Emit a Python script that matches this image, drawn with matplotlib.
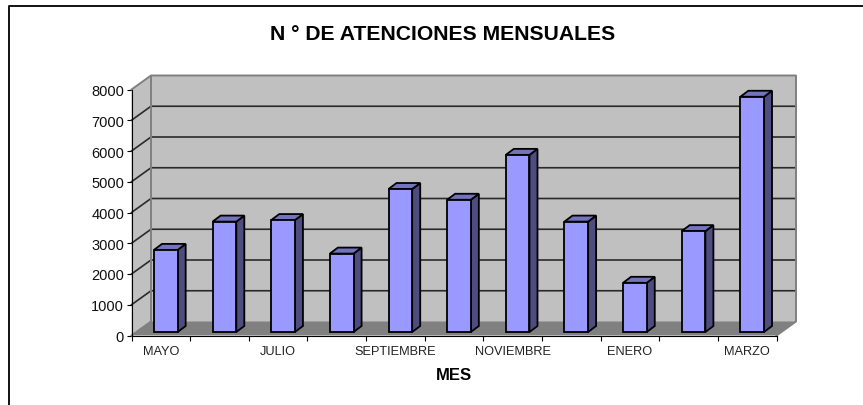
from matplotlib import pyplot as plt
from matplotlib.lines import Line2D
import numpy as np

plt.rcParams['font.family'] = ['Liberation Sans', 'DejaVu Sans']

# data
meses = ["MAYO", "JUNIO", "JULIO", "AGOSTO", "SEPTIEMBRE", "OCTUBRE",
         "NOVIEMBRE", "DICIEMBRE", "ENERO", "FEBRERO", "MARZO"]
atenciones = [2670, 3590, 3640, 2550, 4650, 4300, 5760, 3590, 1600, 3280, 7650]
y_ticks = [0, 1000, 2000, 3000, 4000, 5000, 6000, 7000, 8000]

W, H = 863, 406
# front plane of the fake 3d box, in pixels
LEFT, RIGHT, BOTTOM, TOP = 131.5, 776.5, 336.5, 90.5

fig = plt.figure(figsize=[W / 100, H / 100], dpi=100)
ax = fig.add_axes([LEFT / W, 1 - BOTTOM / H, (RIGHT - LEFT) / W, (BOTTOM - TOP) / H])
ax.set_xlim(0, len(meses))
ax.set_ylim(0, 8000)
ax.patch.set_visible(False)

# depth of the box and sizes of the bars, in data units
cat_px = (RIGHT - LEFT) / len(meses)
val_px = 8000 / (BOTTOM - TOP)
dx = 19.5 / cat_px
dy = 14.0 * val_px
bar_w = 23.7 / cat_px
bar_dx = 8.0 / cat_px
bar_dy = 6.0 * val_px
off_x = 5.0 / cat_px
off_y = 3.5 * val_px

n = len(meses)
wall = '#c0c0c0'
edge = '#808080'

# walls and floor
ax.fill([0, dx, dx, 0], [0, dy, 8000 + dy, 8000], color=wall, lw=0, clip_on=False, zorder=1)
ax.fill([dx, n + dx, n + dx, dx], [dy, dy, 8000 + dy, 8000 + dy], color=wall, lw=0, clip_on=False, zorder=1)
ax.fill([0, n, n + dx, dx], [0, 0, dy, dy], color=edge, lw=0, clip_on=False, zorder=1)

# gridlines on back and side wall
for v in y_ticks[1:-1]:
  ax.plot([0, dx, n + dx], [v, v + dy, v + dy], color='#2a2a2a', lw=1.2, clip_on=False, zorder=2)

# wall outlines
ax.plot([0, dx, n + dx, n + dx, n], [8000, 8000 + dy, 8000 + dy, dy, 0], color=edge, lw=1.4, clip_on=False, zorder=2)
ax.plot([dx, dx], [dy, 8000 + dy], color=edge, lw=1.4, clip_on=False, zorder=2)
ax.plot([0, dx], [0, dy], color=edge, lw=1.4, clip_on=False, zorder=2)

# bars: front face from ax.bar, side and top from the same values
xc = np.arange(n) + 0.5 + off_x
ax.bar(xc, atenciones, width=bar_w, bottom=off_y, color='#9999ff', edgecolor='black', lw=1.3, zorder=4)
for x, v in zip(xc, atenciones):
  l, r = x - bar_w / 2, x + bar_w / 2
  t = v + off_y
  ax.fill([r, r + bar_dx, r + bar_dx, r], [off_y, off_y + bar_dy, t + bar_dy, t],
          facecolor='#4d4d80', edgecolor='black', lw=1.3, clip_on=False, zorder=3)
  ax.fill([l, l + bar_dx, r + bar_dx, r], [t, t + bar_dy, t + bar_dy, t],
          facecolor='#7373bf', edgecolor='black', lw=1.3, clip_on=False, zorder=3)

# axes
ax.spines['top'].set_visible(False)
ax.spines['right'].set_visible(False)
ax.spines['left'].set_zorder(5)
ax.spines['bottom'].set_zorder(5)
ax.set_yticks(y_ticks)
ax.tick_params(axis='y', length=3.4, width=0.8, pad=2, labelsize=10.5, labelcolor='#111111')
ax.set_xticks(np.arange(n + 1))
ax.set_xticklabels([])
ax.set_xticks(np.arange(n) + 0.5, minor=True)
ax.set_xticklabels([m if i % 2 == 0 else "" for i, m in enumerate(meses)], minor=True)
ax.tick_params(axis='x', which='major', length=3.6, width=0.8)
ax.tick_params(axis='x', which='minor', length=0, pad=6.6, labelsize=9.2, labelcolor='#222222')

fig.text(443 / W, 1 - 34.5 / H, "N ° DE ATENCIONES MENSUALES", ha='center', va='center',
         fontsize=15.2, fontweight='bold')
fig.text(453.5 / W, 1 - 376 / H, "MES", ha='center', va='center', fontsize=12, fontweight='bold')

# chart border, only left and top
fig.add_artist(Line2D([8.5 / W, 8.5 / W, 1], [0, 1 - 7 / H, 1 - 7 / H], color='#111111', lw=1.4))

fig.savefig("out.png", dpi=100)
